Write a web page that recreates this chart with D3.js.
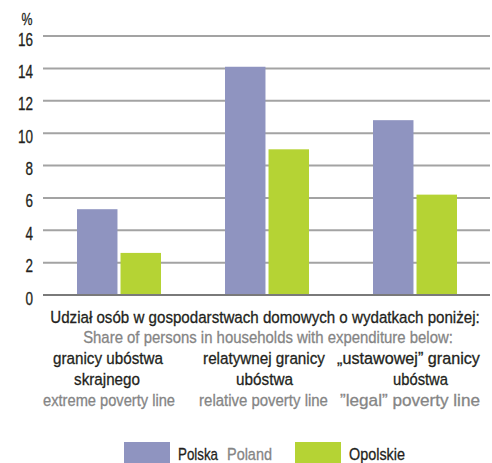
<!DOCTYPE html>
<html><head><meta charset="utf-8">
<script src="https://cdn.jsdelivr.net/npm/d3@7"></script>
<style>body{margin:0;background:#fff}svg{display:block}</style>
</head><body>
<script>
const categories = ["extreme", "relative", "legal"];
const seriesNames = ["Polska", "Opolskie"];
const polska = [5.3, 14.1, 10.8];
const opolskie = [2.6, 9.0, 6.2];
const yTicks = [0, 2, 4, 6, 8, 10, 12, 14, 16];
const labelsPl = [["granicy ubóstwa", "skrajnego"], ["relatywnej granicy", "ubóstwa"], ["„ustawowej” granicy", "ubóstwa"]];
const labelsEn = ["extreme poverty line", "relative poverty line", "”legal” poverty line"];
const axisTitlePl = "Udział osób w gospodarstwach domowych o wydatkach poniżej:";
const axisTitleEn = "Share of persons in households with expenditure below:";
const legendPl = ["Polska", "Opolskie"];
const legendEn = ["Poland", ""];
const colors = ["#8f94c0", "#b5d334"];

const W = 492, H = 463;
const FONT = "'Liberation Sans',Arial,sans-serif";
const dark = "#231f20", gray = "#858585";
const FS = 17;
const svg = d3.select("body").append("svg").attr("width", W).attr("height", H)
  .style("font-family", FONT);

// condensed-looking text: scale natural text horizontally to a target width
function ctext(parent, str, xc, yb, size, fill, width, anchor) {
  anchor = anchor || "middle";
  const t = parent.append("text").attr("x", 0).attr("y", 0).attr("font-size", size).attr("fill", fill)
    .attr("stroke", fill).attr("stroke-width", 0.3).attr("text-anchor", anchor).text(str);
  const nat = t.node().getComputedTextLength();
  const sx = width / nat;
  t.attr("transform", `translate(${xc},${yb}) scale(${sx},1)`);
  return t;
}

const x = d3.scaleBand().domain(categories).range([45, 489]).paddingInner(0).paddingOuter(0);
const y = d3.scaleLinear().domain([0, 16]).range([295, 36]);
const xs = d3.scaleBand().domain(seriesNames).range([0, 84]).paddingInner(0.07);

// gridlines
svg.append("g").selectAll("line").data(yTicks.filter(d => d > 0)).join("line")
  .attr("x1", 43).attr("x2", 490).attr("y1", d => y(d)).attr("y2", d => y(d))
  .attr("stroke", "#a3a3a3").attr("stroke-width", 2);

// bars
const data = categories.map((c, i) => ({c, vals: [polska[i], opolskie[i]]}));
const g = svg.append("g").selectAll("g").data(data).join("g")
  .attr("transform", d => `translate(${x(d.c) + x.bandwidth() / 2 - 42},0)`);
g.selectAll("rect").data(d => d.vals.map((v, j) => ({v, s: seriesNames[j], j}))).join("rect")
  .attr("x", d => xs(d.s)).attr("width", xs.bandwidth())
  .attr("y", d => y(d.v)).attr("height", d => y(0) - y(d.v))
  .attr("fill", d => colors[d.j]);

// baseline
svg.append("line").attr("x1", 43).attr("x2", 490).attr("y1", y(0)).attr("y2", y(0))
  .attr("stroke", "#7a7a7a").attr("stroke-width", 2);

// y axis labels
const yAxis = d3.axisLeft(y).tickValues(yTicks).tickSize(0).tickPadding(0);
const ya = svg.append("g").attr("transform", "translate(33,0)").call(yAxis);
ya.select(".domain").remove();
ya.selectAll(".tick text").each(function(d) {
  const t = d3.select(this);
  t.attr("font-size", 18).attr("fill", dark).style("font-family", FONT)
    .attr("stroke", dark).attr("stroke-width", 0.3).attr("x", 0).attr("dy", "0.5em");
  const nat = this.getComputedTextLength();
  t.attr("transform", `scale(${(String(d).length * 7.5) / nat},1)`);
});
ctext(svg, "%", 27, 25, 16, dark, 11);

// axis titles
ctext(svg, axisTitlePl, 265, 323, FS, dark, 430);
ctext(svg, axisTitleEn, 268, 343, FS, gray, 370);

// category labels
const plCenters = [[108, 107], [264, 264.5], [408.5, 420.5]];
const plWidths = [[110, 66], [122, 57], [143, 55]];
const enCenters = [109, 263.5, 410];
const enWidths = [132, 129, 140];
categories.forEach((c, i) => {
  labelsPl[i].forEach((t, k) => {
    ctext(svg, t, plCenters[i][k], 364 + k * 21, FS, dark, plWidths[i][k]);
  });
  ctext(svg, labelsEn[i], enCenters[i], 406, FS, gray, enWidths[i]);
});

// legend
const lg = svg.append("g");
const legX = [124, 295];
const plW = [40, 56];
seriesNames.forEach((s, i) => {
  lg.append("rect").attr("x", legX[i]).attr("y", 442).attr("width", 46).attr("height", 21).attr("fill", colors[i]);
  ctext(lg, legendPl[i], legX[i] + 54, 460, FS, dark, plW[i], "start");
  if (legendEn[i]) ctext(lg, legendEn[i], legX[i] + 103, 460, FS, gray, 45, "start");
});
</script>
</body></html>
